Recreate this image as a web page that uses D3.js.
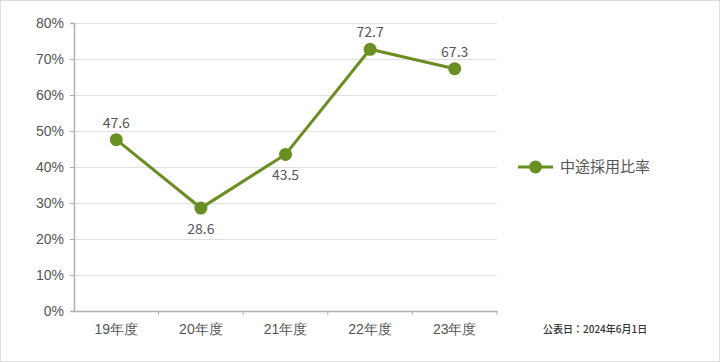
<!DOCTYPE html>
<html>
<head>
<meta charset="utf-8">
<script src="https://cdn.jsdelivr.net/npm/d3@7"></script>
<style>
  body { margin: 0; background: #fff; }
  svg { display: block; font-family: "Noto Sans CJK JP", "Noto Sans", sans-serif; }
</style>
</head>
<body>
<svg width="720" height="362"></svg>
<script>
var years = ["19年度", "20年度", "21年度", "22年度", "23年度"];
var ratio = [47.6, 28.6, 43.5, 72.7, 67.3];
var labelBelow = [false, true, true, false, false];
var yTicks = [0, 10, 20, 30, 40, 50, 60, 70, 80];
var seriesName = "中途採用比率";
var note = "公表日：2024年6月1日";

var svg = d3.select("svg"),
    margin = {top: 23, right: 223, bottom: 51, left: 74},
    width = 720 - margin.left - margin.right,
    height = 362 - margin.top - margin.bottom;

var green = "#6b8e23";

// frame
svg.append("rect")
    .attr("x", 0.5).attr("y", 0.5)
    .attr("width", 719).attr("height", 361)
    .attr("fill", "none").attr("stroke", "#dcdcdc");

var g = svg.append("g").attr("transform", "translate(" + margin.left + "," + margin.top + ")");

var x = d3.scaleBand().domain(years).range([0, width]);
var y = d3.scaleLinear().domain([0, 80]).range([height, 0]);

// grid
g.append("g").selectAll("line")
    .data(yTicks.slice(1))
    .enter().append("line")
    .attr("x1", 0).attr("x2", width)
    .attr("y1", function(d) { return Math.round(y(d)) + 0.5; })
    .attr("y2", function(d) { return Math.round(y(d)) + 0.5; })
    .attr("stroke", "#e0e0e0");

// y axis
var yAxis = g.append("g")
    .call(d3.axisLeft(y).tickValues(yTicks).tickSize(4).tickPadding(6)
        .tickFormat(function(d) { return d + "%"; }));
yAxis.select(".domain").attr("stroke", "#b0b0b0").attr("stroke-width", 1.5);
yAxis.selectAll(".tick line").attr("stroke", "#b0b0b0");
yAxis.selectAll("text").attr("fill", "#555").attr("font-size", 14);

// x axis
var xAxis = g.append("g")
    .attr("transform", "translate(0," + height + ")")
    .call(d3.axisBottom(x).tickSize(0).tickPadding(13));
xAxis.select(".domain").attr("stroke", "#b0b0b0").attr("stroke-width", 1.5);
xAxis.selectAll("text").attr("fill", "#555").attr("font-size", 14);
// boundary ticks between categories
xAxis.selectAll(".bound")
    .data(years.slice(1))
    .enter().append("line")
    .attr("class", "bound")
    .attr("x1", function(d) { return x(d); })
    .attr("x2", function(d) { return x(d); })
    .attr("y1", 0).attr("y2", 4)
    .attr("stroke", "#b0b0b0");
xAxis.append("line")
    .attr("x1", width).attr("x2", width).attr("y1", 0).attr("y2", 4)
    .attr("stroke", "#b0b0b0");

// line
var cx = function(d, i) { return x(years[i]) + x.bandwidth() / 2; };
var line = d3.line()
    .x(cx)
    .y(function(d) { return y(d); });

g.append("path")
    .datum(ratio)
    .attr("d", line)
    .attr("fill", "none")
    .attr("stroke", green)
    .attr("stroke-width", 3);

g.selectAll(".dot")
    .data(ratio)
    .enter().append("circle")
    .attr("class", "dot")
    .attr("cx", cx)
    .attr("cy", function(d) { return y(d); })
    .attr("r", 6.5)
    .attr("fill", green);

g.selectAll(".val")
    .data(ratio)
    .enter().append("text")
    .attr("class", "val")
    .attr("x", cx)
    .attr("y", function(d, i) { return y(d) + (labelBelow[i] ? 26 : -12); })
    .attr("text-anchor", "middle")
    .attr("fill", "#555")
    .attr("font-size", 14)
    .text(function(d) { return d.toFixed(1); });

// legend
var legend = svg.append("g").attr("transform", "translate(518,167)");
legend.append("line")
    .attr("x1", 0).attr("x2", 35).attr("y1", 0).attr("y2", 0)
    .attr("stroke", green).attr("stroke-width", 3);
legend.append("circle")
    .attr("cx", 17.5).attr("cy", 0).attr("r", 6.5).attr("fill", green);
legend.append("text")
    .attr("x", 42).attr("y", 0).attr("dy", "0.35em")
    .attr("fill", "#555").attr("font-size", 15)
    .text(seriesName);

// note
svg.append("text")
    .attr("x", 543).attr("y", 333)
    .attr("fill", "#333").attr("font-size", 10).attr("font-weight", 500)
    .text(note);
</script>
</body>
</html>
